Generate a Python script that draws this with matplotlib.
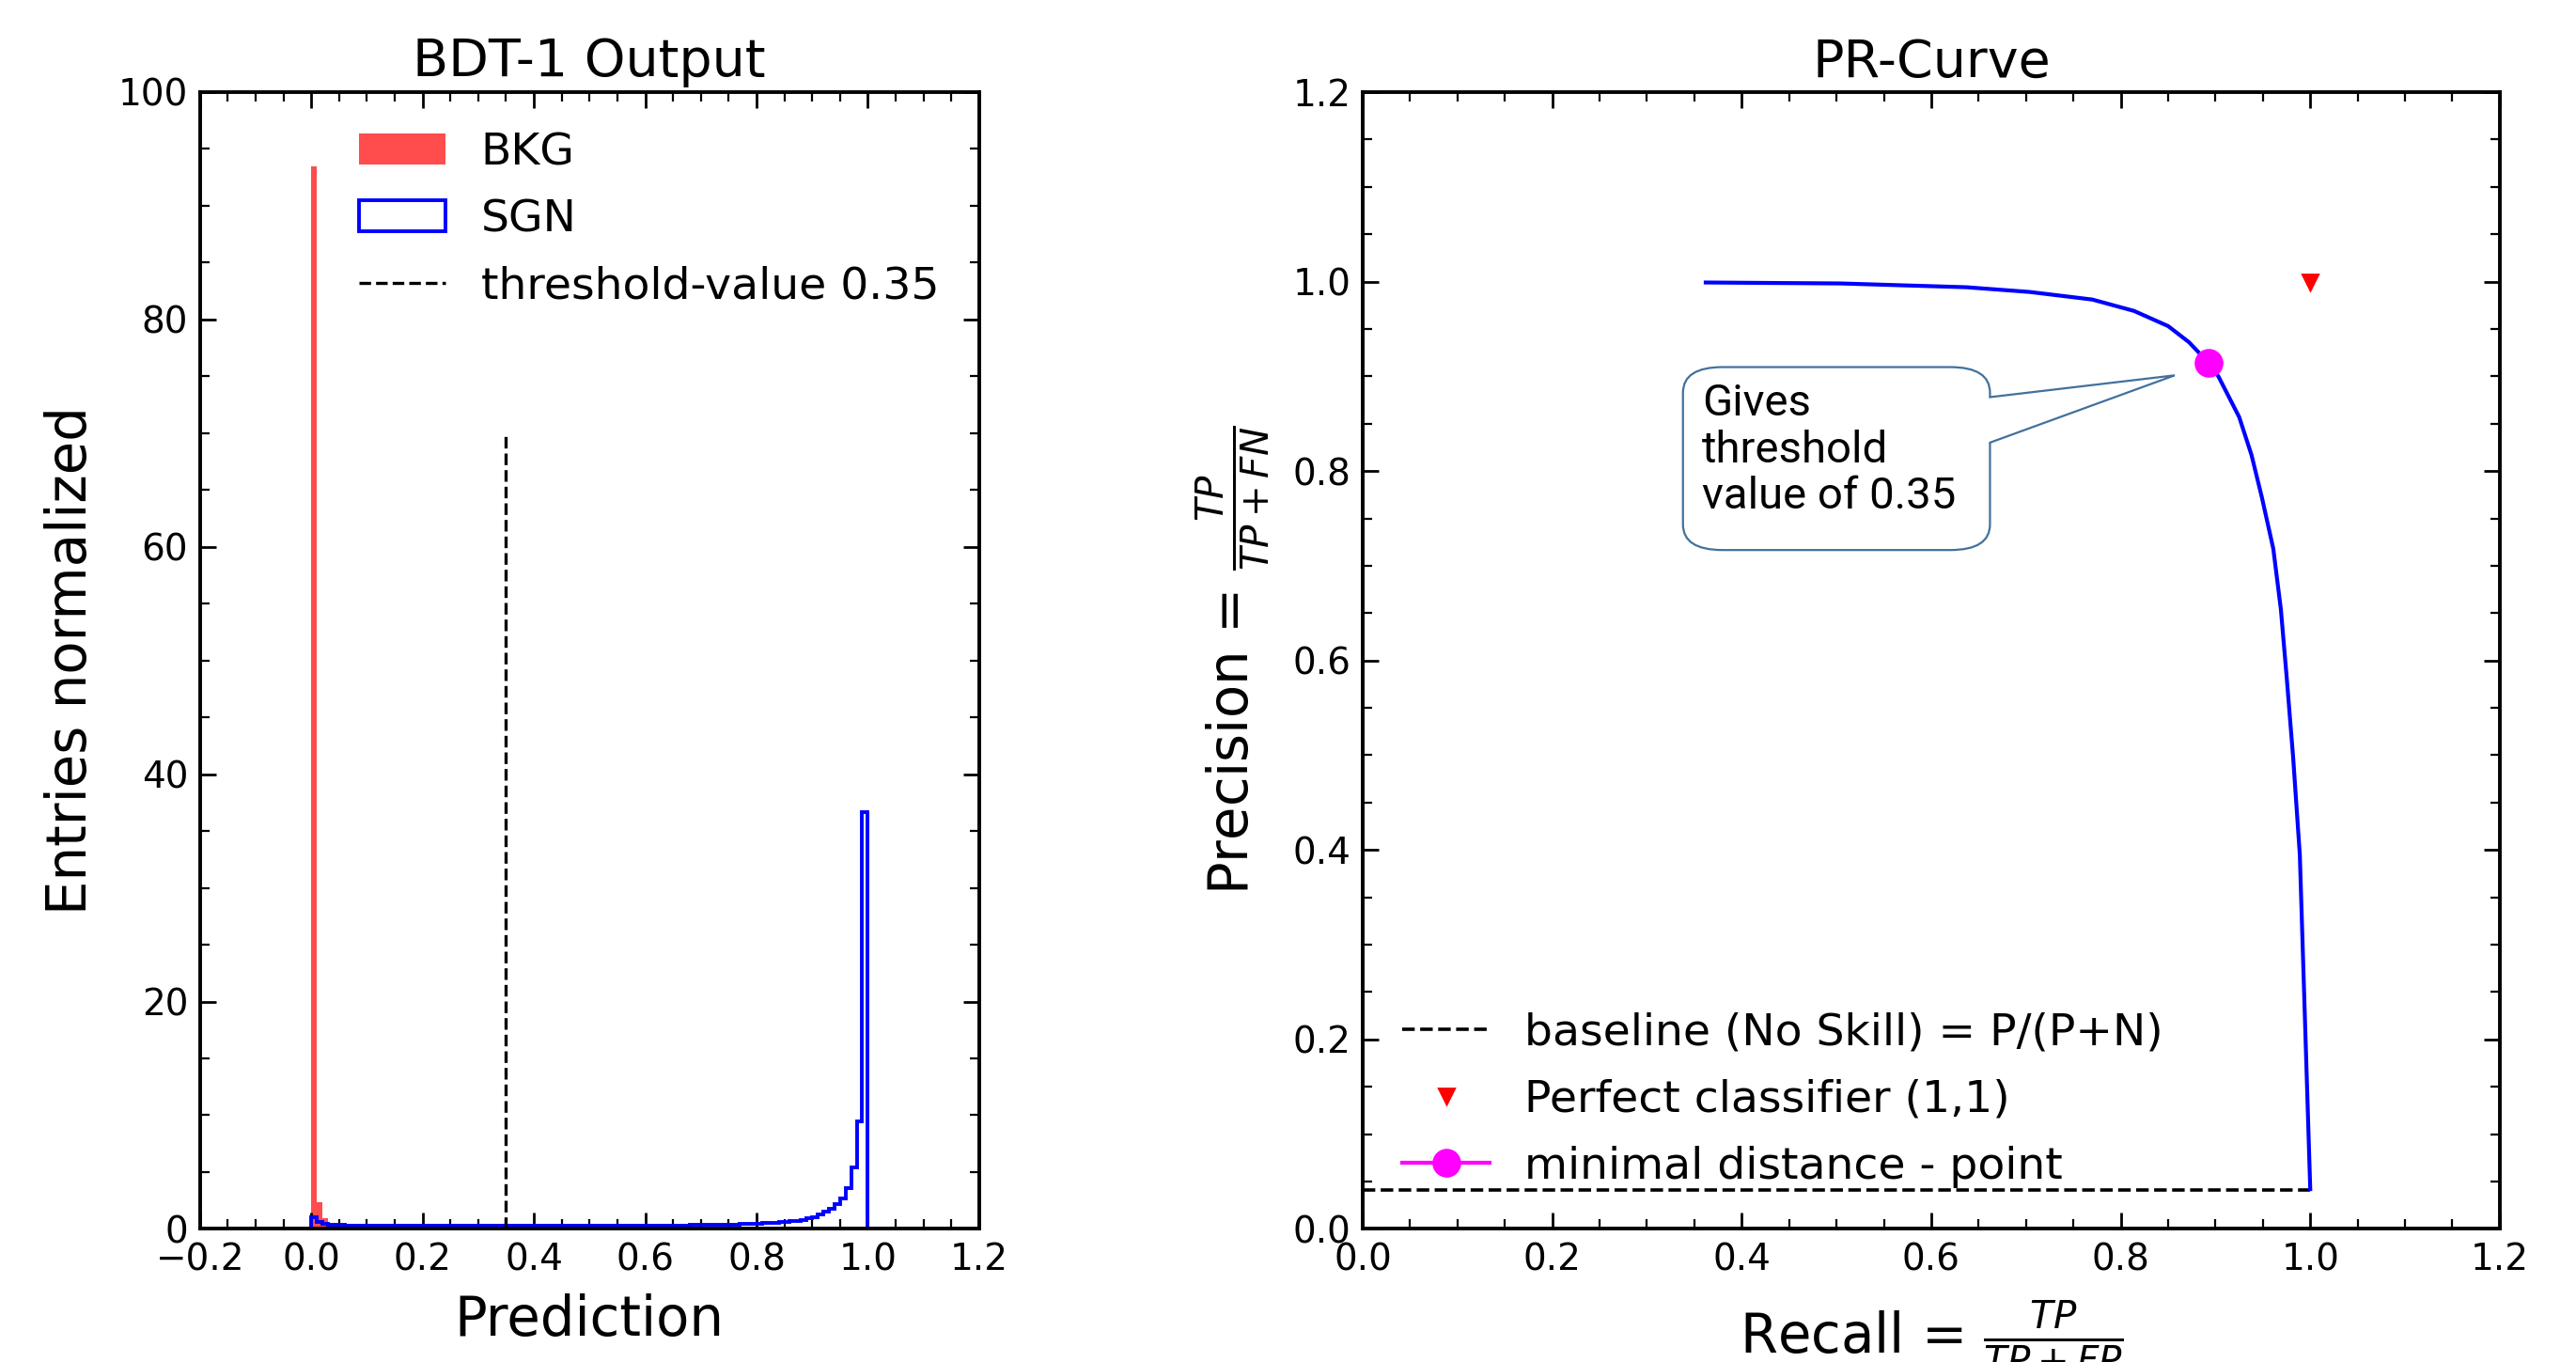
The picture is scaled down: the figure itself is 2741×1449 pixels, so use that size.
import numpy as np
import matplotlib
matplotlib.use("Agg")
import matplotlib.pyplot as plt
from matplotlib.ticker import MultipleLocator
from matplotlib.path import Path
from matplotlib.patches import PathPatch

# histogram data: 100 bins of width 0.01 between 0 and 1 (density normalised)
bin_edges = np.linspace(0.0, 1.0, 101)

bkg_heights = [
    93.5, 2.33, 0.95, 0.48, 0.30, 0.22, 0.17, 0.14, 0.12, 0.10,
    0.09, 0.08, 0.07, 0.07, 0.06, 0.06, 0.05, 0.05, 0.05, 0.04,
    0.04, 0.04, 0.04, 0.03, 0.03, 0.03, 0.03, 0.03, 0.03, 0.02,
    0.02, 0.02, 0.02, 0.02, 0.02, 0.02, 0.02, 0.02, 0.02, 0.02,
    0.02, 0.01, 0.01, 0.01, 0.01, 0.01, 0.01, 0.01, 0.01, 0.01,
    0.01, 0.01, 0.01, 0.01, 0.01, 0.01, 0.01, 0.01, 0.01, 0.01,
    0.01, 0.01, 0.01, 0.01, 0.01, 0.01, 0.01, 0.01, 0.01, 0.01,
    0.01, 0.01, 0.01, 0.01, 0.01, 0.01, 0.01, 0.01, 0.01, 0.01,
    0.01, 0.01, 0.01, 0.01, 0.01, 0.01, 0.01, 0.01, 0.01, 0.01,
    0.01, 0.01, 0.01, 0.01, 0.01, 0.01, 0.01, 0.01, 0.01, 0.01,
]

sgn_heights = [
    1.03, 0.62, 0.48, 0.40, 0.36, 0.33, 0.31, 0.30, 0.29, 0.28,
    0.28, 0.27, 0.27, 0.27, 0.27, 0.26, 0.26, 0.26, 0.26, 0.26,
    0.26, 0.26, 0.26, 0.26, 0.26, 0.26, 0.26, 0.26, 0.26, 0.26,
    0.26, 0.26, 0.26, 0.26, 0.26, 0.26, 0.26, 0.26, 0.26, 0.26,
    0.26, 0.26, 0.26, 0.26, 0.26, 0.26, 0.26, 0.26, 0.27, 0.27,
    0.27, 0.27, 0.27, 0.27, 0.27, 0.28, 0.28, 0.28, 0.28, 0.29,
    0.29, 0.29, 0.30, 0.30, 0.31, 0.31, 0.32, 0.32, 0.33, 0.33,
    0.34, 0.35, 0.36, 0.37, 0.38, 0.39, 0.40, 0.42, 0.44, 0.46,
    0.48, 0.50, 0.53, 0.56, 0.59, 0.63, 0.67, 0.73, 0.81, 0.92,
    1.06, 1.26, 1.54, 1.80, 2.20, 2.70, 3.60, 5.40, 9.50, 36.7,
]

threshold = 0.35

# PR curve
recall = [0.362, 0.504, 0.637, 0.704, 0.770, 0.814, 0.850, 0.872, 0.893,
          0.903, 0.925, 0.938, 0.949, 0.961, 0.969, 0.975, 0.982,
          0.989, 1.0]
precision = [0.999, 0.998, 0.994, 0.989, 0.981, 0.969, 0.953, 0.936, 0.914,
             0.900, 0.857, 0.817, 0.772, 0.718, 0.654, 0.584, 0.497,
             0.395, 0.042]
baseline = 0.0416
best_point = (0.893, 0.914)

plt.rcParams.update({
    "font.family": "DejaVu Sans",
    "xtick.direction": "in",
    "ytick.direction": "in",
    "xtick.top": True,
    "ytick.right": True,
    "xtick.major.size": 6,
    "ytick.major.size": 6,
    "xtick.minor.size": 3.5,
    "ytick.minor.size": 3.5,
    "xtick.major.width": 1.0,
    "ytick.major.width": 1.0,
    "xtick.minor.width": 0.8,
    "ytick.minor.width": 0.8,
    "xtick.major.pad": 5,
    "ytick.major.pad": 4.5,
    "axes.linewidth": 1.4,
    "xtick.labelsize": 14,
    "ytick.labelsize": 14,
})

fig = plt.figure(figsize=(13.705, 7.245), dpi=200)
ax1 = fig.add_axes([0.0776, 0.0977, 0.3025, 0.8347])
ax2 = fig.add_axes([0.529, 0.0977, 0.4414, 0.8347])

# ---- left: BDT output histogram
ax1.hist(bin_edges[:-1], bins=bin_edges, weights=bkg_heights,
         histtype="stepfilled", color="red", alpha=0.7, label="BKG")
ax1.hist(bin_edges[:-1], bins=bin_edges, weights=sgn_heights,
         histtype="step", color="blue", linewidth=1.4, label="SGN")
ax1.vlines(threshold, 0, 70, colors="k", linestyles="dashed", linewidth=1.2,
           label="threshold-value 0.35")
ax1.set_xlim(-0.2, 1.2)
ax1.set_ylim(0, 100)
ax1.xaxis.set_major_locator(MultipleLocator(0.2))
ax1.xaxis.set_minor_locator(MultipleLocator(0.05))
ax1.yaxis.set_major_locator(MultipleLocator(20))
ax1.yaxis.set_minor_locator(MultipleLocator(5))
ax1.set_title("BDT-1 Output", fontsize=20)
ax1.set_xlabel("Prediction", fontsize=20.8, labelpad=6)
ax1.set_ylabel("Entries normalized", fontsize=20.8, labelpad=8)
ax1.legend(loc="upper right", frameon=False, fontsize=17, labelspacing=0.55,
           handletextpad=0.8, handlelength=1.95, bbox_to_anchor=(1.0, 1.0))

# ---- right: PR curve
ax2.plot([0, 1], [baseline, baseline], "k--", linewidth=1.3,
         label="baseline (No Skill) = P/(P+N)")
ax2.plot(recall, precision, color="blue", linewidth=1.5)
ax2.plot(1, 1, marker="v", color="red", linestyle="none", markersize=6,
         label="Perfect classifier (1,1)")
ax2.plot(best_point[0], best_point[1], marker="o", color="magenta",
         markersize=10, linewidth=1.5, label="minimal distance - point")
ax2.set_xlim(0, 1.2)
ax2.set_ylim(0, 1.2)
ax2.xaxis.set_major_locator(MultipleLocator(0.2))
ax2.xaxis.set_minor_locator(MultipleLocator(0.05))
ax2.yaxis.set_major_locator(MultipleLocator(0.2))
ax2.yaxis.set_minor_locator(MultipleLocator(0.05))
ax2.set_title("PR-Curve", fontsize=20)
ax2.set_xlabel(r"Recall = $\frac{TP}{TP+FP}$", fontsize=20.8, labelpad=8)
ax2.set_ylabel(r"Precision = $\frac{TP}{TP+FN}$", fontsize=20.8, labelpad=8)
ax2.legend(loc="lower left", frameon=False, fontsize=17, labelspacing=0.55,
           handletextpad=0.8, handlelength=1.95, bbox_to_anchor=(0.0, 0.001))

# callout box pointing to the minimal distance point
left, right, bottom, top = 0.338, 0.662, 0.7166, 0.9097
rx, ry = 0.042, 0.027
w_hi, w_lo = 0.878, 0.830
tip = (0.857, 0.901)
verts = [
    (right, w_hi), tip, (right, w_lo),
    (right, bottom + ry),
    (right, bottom), (right - rx, bottom),
    (left + rx, bottom),
    (left, bottom), (left, bottom + ry),
    (left, top - ry),
    (left, top), (left + rx, top),
    (right - rx, top),
    (right, top), (right, top - ry),
    (right, w_hi),
]
codes = [Path.MOVETO, Path.LINETO, Path.LINETO, Path.LINETO,
         Path.CURVE3, Path.CURVE3, Path.LINETO,
         Path.CURVE3, Path.CURVE3, Path.LINETO,
         Path.CURVE3, Path.CURVE3, Path.LINETO,
         Path.CURVE3, Path.CURVE3, Path.CLOSEPOLY]
ax2.add_patch(PathPatch(Path(verts, codes), facecolor="white",
                        edgecolor="#41719C", linewidth=0.8, zorder=4))
ax2.text(0.358, 0.893, "Gives\nthreshold\nvalue of 0.35", family="Roboto",
         fontsize=17, ha="left", va="top", linespacing=1.15, zorder=5)

fig.savefig("out.png", dpi=200)
